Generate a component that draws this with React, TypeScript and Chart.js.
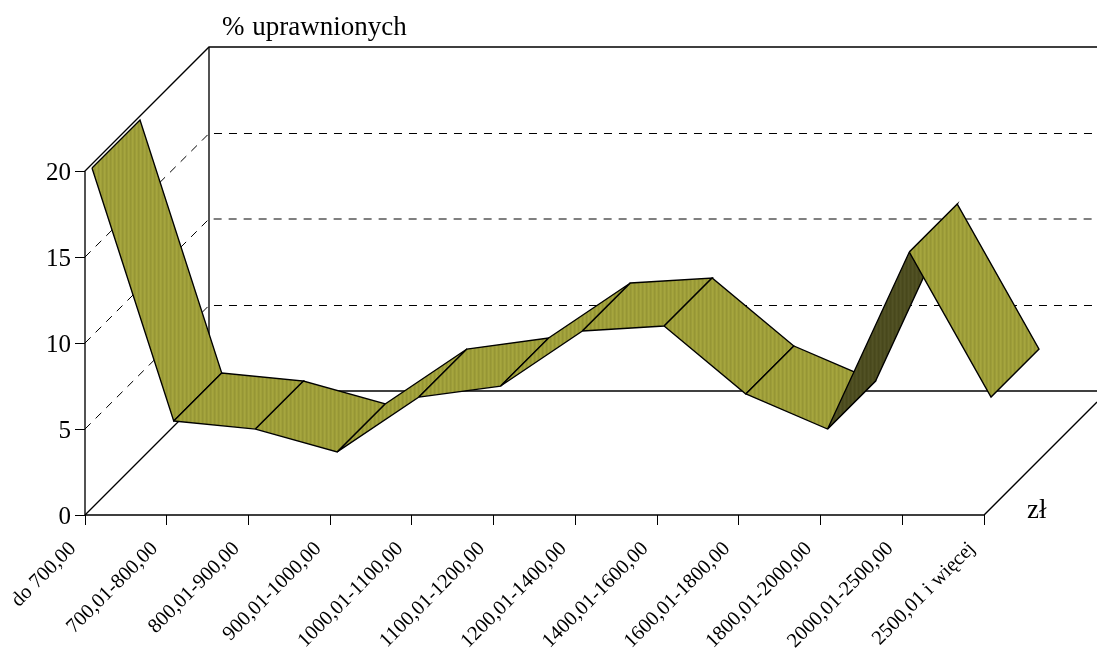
import React, { useEffect, useRef } from "react";
import { Chart, registerables } from "chart.js";

Chart.register(...registerables);

const categories = [
  "do 700,00",
  "700,01-800,00",
  "800,01-900,00",
  "900,01-1000,00",
  "1000,01-1100,00",
  "1100,01-1200,00",
  "1200,01-1400,00",
  "1400,01-1600,00",
  "1600,01-1800,00",
  "1800,01-2000,00",
  "2000,01-2500,00",
  "2500,01 i więcej",
];
const shares = [19.77, 5.06, 4.59, 3.26, 6.45, 7.09, 10.29, 10.58, 6.63, 4.59, 14.88, 6.45];
const yTicks = [0, 5, 10, 15, 20];
const gridLevels = [5, 10, 15];

const AREA_W = 1012;
const AREA_H = 468;
const X_MAX = AREA_W / 81.73;
const Y_MAX = AREA_H / 17.2;
// chart depth expressed in data units of the two scales
const DEPTH_X = 124 / 81.73;
const DEPTH_Y = 124 / 17.2;
const RIB_FRONT = 7 / 124;
const RIB_BACK = 55 / 124;
// half-pixel settling of the back-wall grid rows, in y units
const HALF_ROW = 0.5 / 17.2;

const at = (x: number, y: number, d: number) => ({ x: x + d * DEPTH_X, y: y + d * DEPTH_Y });

function stripes(cols: string[]) {
  const c = document.createElement("canvas");
  c.width = cols.length;
  c.height = 2;
  const g = c.getContext("2d")!;
  cols.forEach((col, i) => {
    g.fillStyle = col;
    g.fillRect(i, 0, 1, 2);
  });
  return g.createPattern(c, "repeat")!;
}

function wire(data: { x: number; y: number }[], opts: any = {}) {
  return {
    data,
    showLine: true,
    borderColor: "#000",
    borderWidth: 1.35,
    pointRadius: 0,
    tension: 0,
    fill: false,
    clip: 3,
    ...opts,
  };
}

export default function App() {
  const ref = useRef<HTMLCanvasElement | null>(null);
  useEffect(() => {
    const light = stripes(["#a6a63e", "#a0a03a", "#969634", "#9c9c3a"]);
    const dark = stripes(["#525225", "#4e4e20", "#48481c", "#4c4c20"]);
    const lastD = (1097 - 984) / 124;
    const structure = [
      wire([at(0, 0, 0), at(11, 0, 0), at(11, 0, lastD)]),
      wire([at(0, 0, 0), at(0, 20, 0), at(0, 20, 1), { x: X_MAX, y: 20 + DEPTH_Y }]),
      wire([at(0, 0, 0), at(0, 0, 1), at(0, 20, 1)]),
      wire([at(0, 0, 1), { x: X_MAX, y: DEPTH_Y }], { borderWidth: 1.6 }),
      ...gridLevels.map((v) => {
        const nudge = v === 10 ? 0 : HALF_ROW;
        return wire(
          [at(0, v, 0), { x: DEPTH_X, y: v + DEPTH_Y - nudge }, { x: X_MAX, y: v + DEPTH_Y - nudge }],
          { borderDash: [8, 7], borderWidth: 1 }
        );
      }),
    ];
    const ribbons = shares.slice(0, -1).map((v, i) => {
      const w = shares[i + 1];
      const facingDown = (w - v) / DEPTH_Y > 1 / DEPTH_X;
      return wire(
        [
          at(i, v, RIB_FRONT),
          at(i + 1, w, RIB_FRONT),
          at(i + 1, w, RIB_BACK),
          at(i, v, RIB_BACK),
          at(i, v, RIB_FRONT),
        ],
        { fill: "shape", backgroundColor: facingDown ? dark : light }
      );
    });
    const all = [...structure, ...ribbons].map((d, i) => ({ ...d, order: -i }));

    const axisTitles = {
      id: "axisTitles",
      afterDraw(chart: any) {
        const g = chart.ctx;
        g.save();
        g.fillStyle = "#000";
        g.font = '27px "Liberation Serif"';
        g.textAlign = "left";
        g.textBaseline = "alphabetic";
        g.wordSpacing = "1px";
        g.fillText("% uprawnionych", 222, 35);
        g.fillText("zł", 1027, 518);
        g.restore();
      },
    };

    const chart = new Chart(ref.current!, {
      type: "scatter",
      data: { datasets: all as any },
      plugins: [axisTitles],
      options: {
        animation: false,
        responsive: false,
        events: [],
        layout: { padding: { top: 47, left: 0, right: 0, bottom: 0 } },
        plugins: { legend: { display: false }, tooltip: { enabled: false }, title: { display: false } },
        scales: {
          x: {
            type: "linear",
            min: 0,
            max: X_MAX,
            border: { display: false },
            grid: { drawOnChartArea: false, drawTicks: true, tickLength: 10, color: "#000", lineWidth: 1 },
            afterBuildTicks: (s: any) => {
              s.ticks = categories.map((_, i) => ({ value: i }));
            },
            afterFit: (s: any) => {
              s.height = 139;
            },
            ticks: {
              autoSkip: false,
              minRotation: 45,
              maxRotation: 45,
              padding: 12,
              labelOffset: -12,
              color: "#000",
              font: { family: '"Liberation Serif"', size: 20.5 },
              callback: (v: any) => categories[v],
            },
          },
          y: {
            type: "linear",
            min: 0,
            max: Y_MAX,
            border: { display: false },
            grid: { drawOnChartArea: false, drawTicks: true, tickLength: 10, color: "#000", lineWidth: 1 },
            afterBuildTicks: (s: any) => {
              s.ticks = yTicks.map((value) => ({ value }));
            },
            afterFit: (s: any) => {
              s.width = 85;
            },
            ticks: {
              padding: 4,
              labelOffset: 2,
              color: "#000",
              font: { family: '"Liberation Serif"', size: 25 },
              callback: (v: any) => String(v),
            },
          },
        },
      },
    });
    return () => chart.destroy();
  }, []);
  return (
    <div style={{ position: "fixed", left: 0, top: 0, background: "#fff" }}>
      <canvas ref={ref} width={1097} height={654} style={{ display: "block" }} />
    </div>
  );
}
